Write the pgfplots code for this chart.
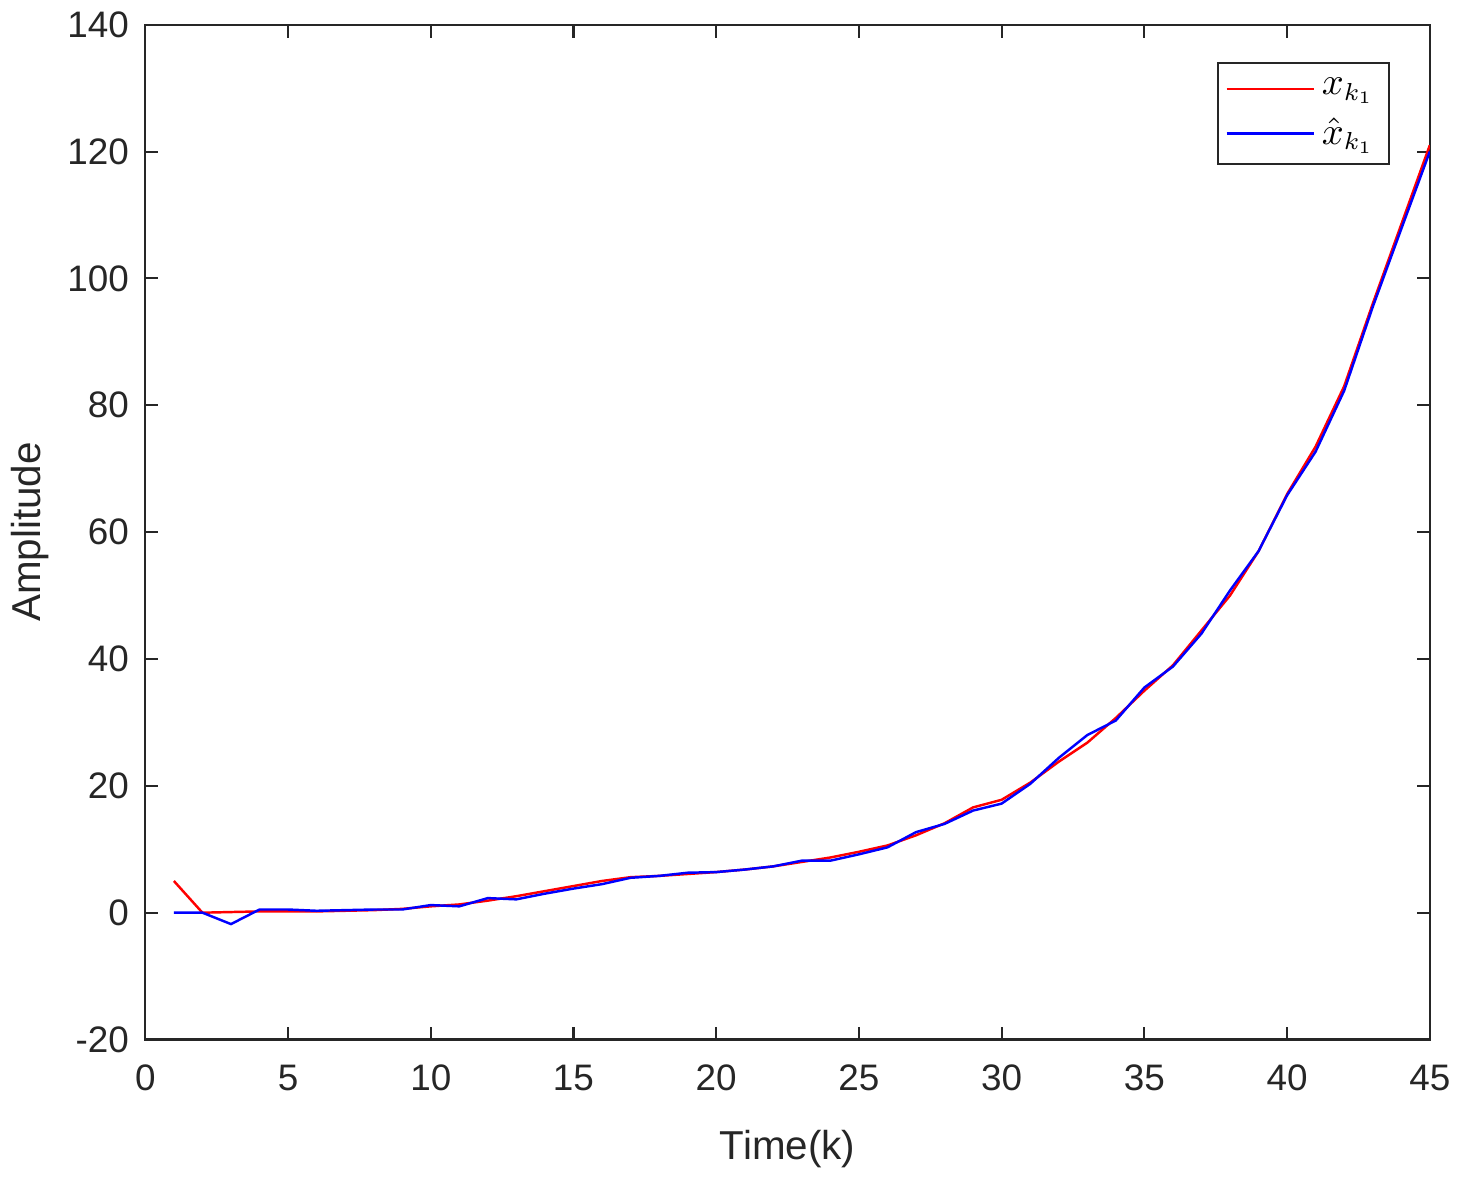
\documentclass[border=0pt]{standalone}
\usepackage{pgfplots}
\pgfplotsset{compat=1.18}
\usepackage{fontspec}
\setmainfont{Liberation Sans}
\definecolor{axgray}{RGB}{38,38,38}

\begin{document}
\begin{tikzpicture}
\begin{axis}[
    scale only axis,
    width=12.86cm, height=10.16cm,
    xmin=0, xmax=45, ymin=-20, ymax=140,
    xtick={0,5,...,45}, ytick={-20,0,...,140},
    tick align=inside,
    major tick length=1.3mm,
    axis line style={axgray, line width=0.6pt},
    every tick/.style={axgray, line width=0.6pt},
    tick label style={font=\fontsize{10.5}{12}\selectfont, text=axgray},
    xticklabel style={yshift=-1.3mm},
    yticklabel style={xshift=-0.4mm},
    label style={font=\fontsize{11.5}{13}\selectfont, text=axgray},
    /pgf/number format/assume math mode=true,
    xlabel={Time(k)}, ylabel={Amplitude},
    xlabel style={yshift=-1.5mm},
    ylabel style={yshift=-0.6mm},
    legend style={at={(0.969,0.963)}, anchor=north east, draw=axgray,
      line width=0.6pt, font=\fontsize{10.5}{12.5}\selectfont, inner sep=2.2pt,
      row sep=1pt},
    legend cell align=left,
    legend image code/.code={\draw[#1, line width=0.7pt] (0mm,0mm) -- (8.7mm,0mm);},
  ]
  \addplot[red, line width=0.7pt] coordinates {
    (1,5) (2,0) (3,0.1) (4,0.2) (5,0.2) (6,0.2) (7,0.3) (8,0.4) (9,0.6) (10,1.0)
    (11,1.3) (12,1.9) (13,2.6) (14,3.4) (15,4.2) (16,5.0) (17,5.6) (18,5.8) (19,6.1) (20,6.4)
    (21,6.8) (22,7.3) (23,8.0) (24,8.7) (25,9.6) (26,10.6) (27,12.2) (28,14.1) (29,16.6) (30,17.8)
    (31,20.5) (32,23.8) (33,26.8) (34,30.7) (35,35.0) (36,39.0) (37,44.5) (38,50.0) (39,57.0) (40,66.0)
    (41,73.5) (42,83.0) (43,96.0) (44,108.5) (45,121.0)
  };
  \addlegendentry{$x_{k_1}$}
  \addplot[blue, line width=0.7pt] coordinates {
    (1,0) (2,0) (3,-1.8) (4,0.5) (5,0.5) (6,0.3) (7,0.4) (8,0.5) (9,0.5) (10,1.2)
    (11,1.0) (12,2.3) (13,2.1) (14,3.0) (15,3.8) (16,4.5) (17,5.5) (18,5.8) (19,6.3) (20,6.4)
    (21,6.8) (22,7.3) (23,8.2) (24,8.2) (25,9.2) (26,10.3) (27,12.7) (28,14.0) (29,16.1) (30,17.2)
    (31,20.3) (32,24.4) (33,28.0) (34,30.3) (35,35.5) (36,38.8) (37,44.0) (38,50.8) (39,57.0) (40,65.8)
    (41,72.7) (42,82.3) (43,95.5) (44,107.8) (45,120.0)
  };
  \addlegendentry{$\hat{x}_{k_1}$}
\end{axis}
\end{tikzpicture}
\end{document}
